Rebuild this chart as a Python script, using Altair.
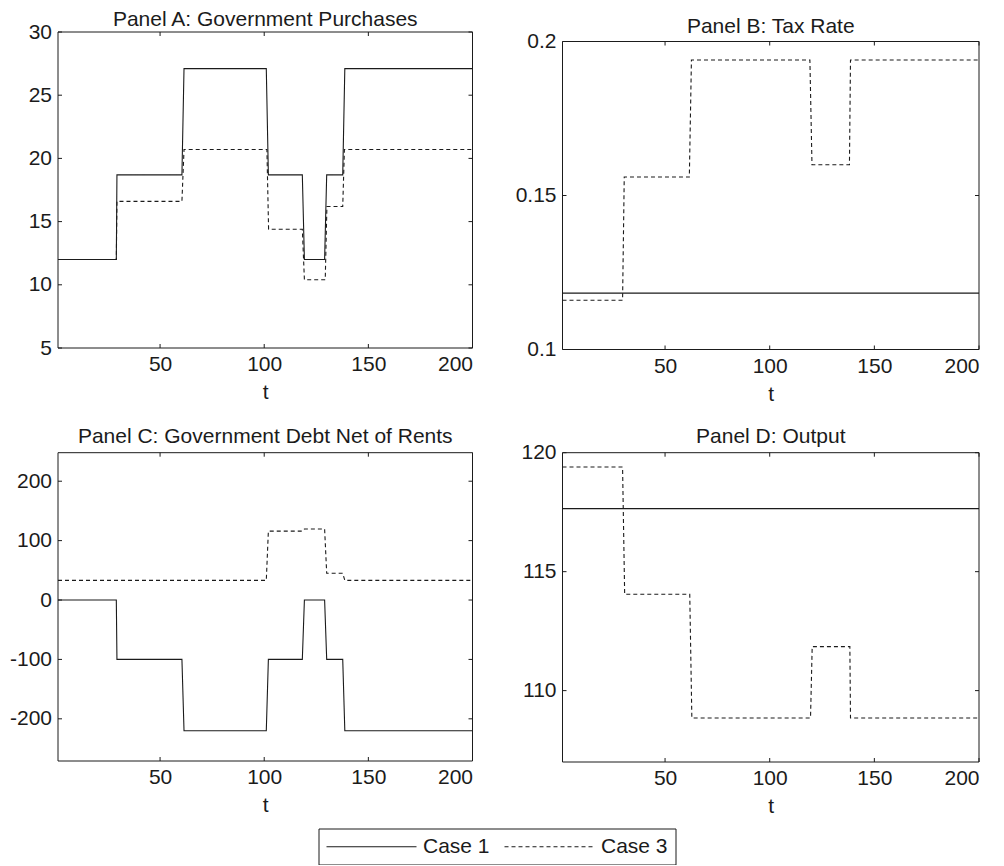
import altair as alt
import pandas as pd

# ---------------- data ----------------
CASES = ["Case 1", "Case 3"]
T_MIN, T_MAX = 1, 200
X_TICKS = [50, 100, 150, 200]

# Panel A: Government Purchases
A_TITLE = "Panel A: Government Purchases"
A_T1 = [1, 29, 29.3, 60.5, 61.5, 101, 102, 118.3, 119.3, 129, 130, 137.7, 138.7, 200]
A_V1 = [12.0, 12.0, 18.7, 18.7, 27.1, 27.1, 18.7, 18.7, 12.0, 12.0, 18.7, 18.7, 27.1, 27.1]
A_T3 = [1, 29, 29.3, 60.5, 61.5, 101.3, 102.1, 118.3, 119.3, 129.3, 130.1, 137.7, 138.5, 200]
A_V3 = [12.0, 12.0, 16.6, 16.6, 20.7, 20.7, 14.4, 14.4, 10.4, 10.4, 16.2, 16.2, 20.7, 20.7]
A_DOMAIN = [5, 30]
A_TICKS = [5, 10, 15, 20, 25, 30]

# Panel B: Tax Rate
B_TITLE = "Panel B: Tax Rate"
B_T1 = [1, 200]
B_V1 = [0.1183, 0.1183]
B_T3 = [1, 29.7, 30.5, 61.6, 62.6, 119.2, 120.2, 138.1, 138.6, 200]
B_V3 = [0.116, 0.116, 0.156, 0.156, 0.194, 0.194, 0.160, 0.160, 0.194, 0.194]
B_DOMAIN = [0.1, 0.2]
B_TICKS = [0.1, 0.15, 0.2]

# Panel C: Government Debt Net of Rents
C_TITLE = "Panel C: Government Debt Net of Rents"
C_T1 = [1, 29, 29.3, 60.5, 61.5, 101, 102, 118.3, 119.3, 129, 130, 137.7, 138.7, 200]
C_V1 = [0, 0, -100, -100, -220, -220, -100, -100, 0, 0, -100, -100, -220, -220]
C_T3 = [1, 101, 102, 118.3, 119.3, 129, 130, 137.7, 138.7, 200]
C_V3 = [33, 33, 116, 116, 119.5, 119.5, 45, 45, 33, 33]
C_DOMAIN = [-271, 248]
C_TICKS = [-200, -100, 0, 100, 200]

# Panel D: Output
D_TITLE = "Panel D: Output"
D_T1 = [1, 200]
D_V1 = [117.65, 117.65]
D_T3 = [1, 29.7, 30.7, 61.8, 62.8, 119.5, 120.3, 138.3, 138.6, 200]
D_V3 = [119.4, 119.4, 114.05, 114.05, 108.85, 108.85, 111.85, 111.85, 108.85, 108.85]
D_DOMAIN = [107, 120]
D_TICKS = [110, 115, 120]

# ---------------- style ----------------
FONT = "Liberation Sans"
INK = "#1b1b1b"
FS = 21
TICK_LEN = 4


def series_df(t1, v1, t3, v3):
    rows = [{"t": t, "value": v, "case": CASES[0]} for t, v in zip(t1, v1)]
    rows += [{"t": t, "value": v, "case": CASES[1]} for t, v in zip(t3, v3)]
    return pd.DataFrame(rows)


def panel(title, title_offset, t1, v1, t3, v3, y_dom, y_ticks, width, height, top_gap=0.0):
    y0, y1 = y_dom
    frame_h = height - top_gap
    y_top = y1 + (y1 - y0) * top_gap / frame_h
    xs = alt.Scale(domain=[T_MIN, T_MAX], nice=False, zero=False)
    ys = alt.Scale(domain=[y0, y_top], nice=False, zero=False)
    x_axis = alt.Axis(values=X_TICKS, title="t", labelExpr="'' + datum.value")
    y_axis = alt.Axis(values=y_ticks, title=None, labelExpr="'' + datum.value")

    frame_df = pd.DataFrame({"t": [T_MIN], "t2": [T_MAX], "value": [y0], "value2": [y1]})
    frame = alt.Chart(frame_df).mark_rect(fillOpacity=0, stroke=INK, strokeWidth=1).encode(
        x=alt.X("t:Q", scale=xs, axis=x_axis),
        x2=alt.X2("t2"),
        y=alt.Y("value:Q", scale=ys, axis=y_axis),
        y2=alt.Y2("value2"),
    )

    bot_df = pd.DataFrame({"t": X_TICKS, "value": [y0] * len(X_TICKS)})
    top_df = pd.DataFrame({"t": X_TICKS, "value": [y1] * len(X_TICKS)})
    left_df = pd.DataFrame({"t": [T_MIN] * len(y_ticks), "value": y_ticks})
    right_df = pd.DataFrame({"t": [T_MAX] * len(y_ticks), "value": y_ticks})

    def xtick(df, off):
        return alt.Chart(df).mark_rule(color=INK, strokeWidth=1, y2Offset=off).encode(
            x=alt.X("t:Q", scale=xs, axis=x_axis),
            y=alt.Y("value:Q", scale=ys, axis=y_axis),
            y2=alt.Y2("value"),
        )

    def ytick(df, off):
        return alt.Chart(df).mark_rule(color=INK, strokeWidth=1, x2Offset=off).encode(
            x=alt.X("t:Q", scale=xs, axis=x_axis),
            x2=alt.X2("t"),
            y=alt.Y("value:Q", scale=ys, axis=y_axis),
        )

    lines = alt.Chart(series_df(t1, v1, t3, v3)).mark_line(
        color=INK, strokeWidth=1.1
    ).encode(
        x=alt.X("t:Q", scale=xs, axis=x_axis),
        y=alt.Y("value:Q", scale=ys, axis=y_axis),
        strokeDash=alt.StrokeDash(
            "case:N",
            scale=alt.Scale(domain=CASES, range=[[1, 0], [4, 3]]),
            legend=alt.Legend(title=None),
        ),
    )

    return alt.layer(
        frame, xtick(bot_df, -TICK_LEN), xtick(top_df, TICK_LEN),
        ytick(left_df, TICK_LEN), ytick(right_df, -TICK_LEN), lines
    ).properties(
        width=width,
        height=height,
        title=alt.TitleParams(text=title, offset=title_offset, fontSize=FS, font=FONT,
                              fontWeight="normal", color=INK),
    )


pA = panel(A_TITLE, -9.2, A_T1, A_V1, A_T3, A_V3, A_DOMAIN, A_TICKS, 414.5, 316)
pB = panel(B_TITLE, -6.0, B_T1, B_V1, B_T3, B_V3, B_DOMAIN, B_TICKS, 416.5, 317.5, top_gap=9.5)
pC = panel(C_TITLE, 5.0, C_T1, C_V1, C_T3, C_V3, C_DOMAIN, C_TICKS, 414.5, 308.3)
pD = panel(D_TITLE, -5.5, D_T1, D_V1, D_T3, D_V3, D_DOMAIN, D_TICKS, 416.5, 309.3)

chart = alt.concat(
    pA, pB, pC, pD, columns=2, spacing={"row": 102.7, "column": 89.5},
    bounds="flush", align="each",
).properties(
    padding=0,
).configure_view(
    stroke="transparent",
).configure_axis(
    domain=False, ticks=False, grid=False,
    labelFont=FONT, labelFontSize=FS, labelColor=INK, labelPadding=6.5,
    titleFont=FONT, titleFontSize=FS, titleFontWeight="normal", titleColor=INK,
).configure_axisX(
    labelPadding=5.5, titlePadding=7,
).configure_legend(
    orient="none", legendX=260.5, legendY=796.5, direction="horizontal",
    strokeColor=INK, padding=7.5,
    symbolType="M-9,0L9,0", symbolSize=100, symbolStrokeWidth=1.1, symbolStrokeColor=INK,
    symbolOffset=35, labelOffset=41, columnPadding=12,
    labelFont=FONT, labelFontSize=FS, labelColor=INK,
)

chart.save("out.html", embed_options={"renderer": "svg", "actions": False})
